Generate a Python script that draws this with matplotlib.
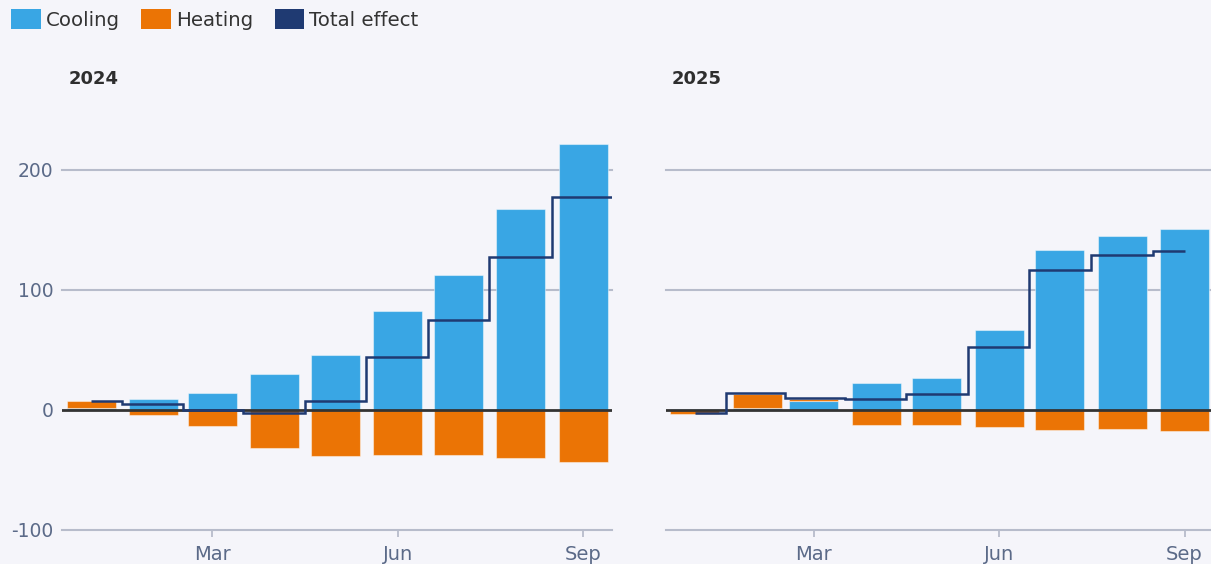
import matplotlib
matplotlib.use("Agg")
import matplotlib.pyplot as plt
import matplotlib.dates as mdates
from matplotlib.patches import Patch
import numpy as np
import pandas as pd

# Monthly decomposition of the weather effect, by year
months_2024 = pd.date_range("2024-01-01", periods=9, freq="MS")
cooling_2024 = [1.5, 8.5, 13.5, 29.5, 45.5, 82, 112.5, 167, 221]
heating_2024 = [5.5, -4.2, -13.6, -32, -38.6, -38, -38, -40.7, -43.8]
total_2024 = [7, 4.5, 0, -2.5, 7, 43.5, 74.5, 127, 177.3]

months_2025 = pd.date_range("2025-01-01", periods=9, freq="MS")
cooling_2025 = [0.5, 1.5, 7, 22, 26, 66, 133, 145, 150.5]
heating_2025 = [-3.5, 11.5, 2, -13, -13, -14.6, -17, -16.6, -18]
total_2025 = [-3, 14, 9.5, 8.5, 13, 52, 116, 128.5, 132.5]

series_labels = ["Cooling", "Heating", "Total effect"]
tick_months = ["Mar", "Jun", "Sep"]
y_ticks = [-100, 0, 100, 200]

# Styling
BG = "#f5f5fa"
C_COOL = "#39a6e4"
C_HEAT = "#eb7405"
C_TOTAL = "#1f3a72"
C_ZERO = "#333333"
C_GRID = "#b7bccb"
C_TICK = "#5b6a88"
C_TITLE = "#2e2e2e"
FONT = "DejaVu Sans"

plt.rcParams["font.family"] = [FONT]

W, H = 1211, 564
fig = plt.figure(figsize=(W / 100, H / 100), dpi=100, facecolor=BG)

ax_w = 549 / W
ax_b = (H - 529.5) / H
ax_h = (529.5 - 127.5) / H
ax_left = fig.add_axes([62.5 / W, ax_b, ax_w, ax_h])
ax_right = fig.add_axes([666 / W, ax_b, ax_w, ax_h])

DAYS_BEFORE = 14.2
SPAN_DAYS = 272.3
BAR_DAYS = 24.3


def draw_panel(ax, months, cooling, heating, total, title, line_end, show_y):
    ax.set_facecolor(BG)
    x = mdates.date2num(months.to_pydatetime())
    x0 = x[0] - DAYS_BEFORE
    ax.set_xlim(x0, x0 + SPAN_DAYS)
    ax.set_ylim(-100, 235)

    # gridlines (the -100 line doubles as the axis line)
    for yv in y_ticks:
        if yv == 0:
            continue
        ax.axhline(yv, color=C_GRID, lw=1.5, zorder=0.5, clip_on=False)

    # relative stacking: positives build up from zero, negatives down
    pos_base = np.zeros(len(x))
    neg_base = np.zeros(len(x))
    for vals, col in ((cooling, C_COOL), (heating, C_HEAT)):
        v = np.asarray(vals, dtype=float)
        bottom = np.where(v >= 0, pos_base, neg_base)
        ax.bar(x, v, bottom=bottom, width=BAR_DAYS, color=col,
               edgecolor=(1, 1, 1, 0.45), linewidth=0.8, zorder=2)
        pos_base = pos_base + np.where(v >= 0, v, 0)
        neg_base = neg_base + np.where(v < 0, v, 0)

    ax.axhline(0, color=C_ZERO, lw=2.0, zorder=3)

    # total effect as a step line, switching halfway between months
    edges = np.concatenate([[x[0]], (x[:-1] + x[1:]) / 2, [line_end]])
    st = ax.stairs(total, edges, baseline=None, color=C_TOTAL, lw=1.8, zorder=4)
    st.set_joinstyle("miter")

    for side in ("top", "right", "left", "bottom"):
        ax.spines[side].set_visible(False)

    tick_pos = [x[list(months.strftime("%b")).index(m)] for m in tick_months]
    ax.set_xticks(tick_pos)
    ax.set_xticklabels(tick_months)
    ax.tick_params(axis="x", length=5, width=1.3, color=C_GRID,
                   labelcolor=C_TICK, labelsize=14, pad=6)

    ax.set_yticks(y_ticks)
    if show_y:
        ax.set_yticklabels([str(v) for v in y_ticks])
        ax.tick_params(axis="y", length=0, labelsize=13.5, labelcolor=C_TICK,
                       pad=6.5)
    else:
        ax.tick_params(axis="y", length=0, labelleft=False)

    bbox = ax.get_position()
    fig.text(bbox.x0 + 6 / W, 1 - 79 / H, title, fontsize=13, fontweight="bold",
             color=C_TITLE, ha="left", va="center")


end_2024 = mdates.date2num(pd.Timestamp("2024-10-01").to_pydatetime())
end_2025 = mdates.date2num(months_2025[-1].to_pydatetime())

draw_panel(ax_left, months_2024, cooling_2024, heating_2024, total_2024,
           "2024", end_2024, True)
draw_panel(ax_right, months_2025, cooling_2025, heating_2025, total_2025,
           "2025", end_2025, False)

handles = [Patch(facecolor=C_COOL), Patch(facecolor=C_HEAT), Patch(facecolor=C_TOTAL)]
fig.legend(handles, series_labels, loc="upper left",
           bbox_to_anchor=(11 / W, 1 - 9 / H), ncol=3, frameon=False,
           fontsize=14.2, handlelength=1.5, handleheight=1.2,
           handletextpad=0.25, columnspacing=1.1, borderpad=0, borderaxespad=0,
           labelcolor="#333333")

fig.savefig("out.png", dpi=100, facecolor=BG)
